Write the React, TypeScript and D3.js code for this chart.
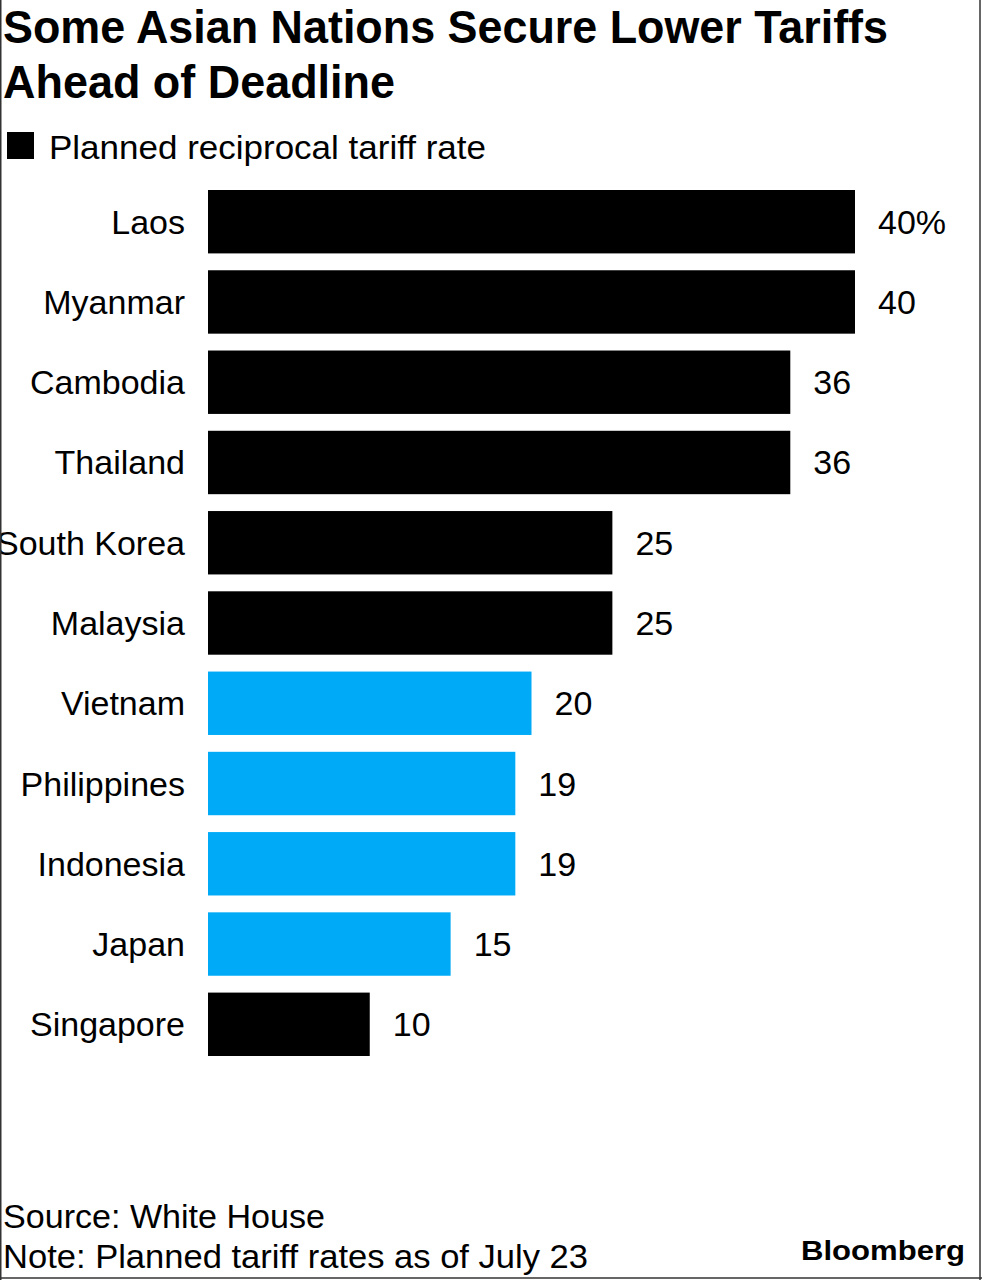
import React from "react";
import * as d3 from "d3";

const countries = ["Laos", "Myanmar", "Cambodia", "Thailand", "South Korea", "Malaysia", "Vietnam", "Philippines", "Indonesia", "Japan", "Singapore"];
const rates = [40, 40, 36, 36, 25, 25, 20, 19, 19, 15, 10];
const secured = [false, false, false, false, false, false, true, true, true, true, false];

const titleLines = ["Some Asian Nations Secure Lower Tariffs", "Ahead of Deadline"];
const legendLabel = "Planned reciprocal tariff rate";
const sourceText = "Source: White House";
const noteText = "Note: Planned tariff rates as of July 23";

const W = 982;
const H = 1280;
const FONT = "'Liberation Sans', Arial, Helvetica, sans-serif";
const BLUE = "#00aaf7";

export default function App() {
  const x = d3.scaleLinear().domain([0, 40]).range([208, 855]);
  const y = d3.scaleBand<string>().domain(countries).range([190, 1056]).paddingInner(0.21).paddingOuter(0);
  const bw = y.bandwidth();

  return (
    <div style={{ position: "absolute", left: 0, top: 0 }}>
      <svg width={W} height={H} style={{ display: "block", background: "#fff" }} fontFamily={FONT}>
        <rect x={0} y={0} width={W} height={H} fill="#fff" />
        <text x={3} y={43} fontSize={46} fontWeight="bold" fill="#000" textLength={885} lengthAdjust="spacingAndGlyphs">{titleLines[0]}</text>
        <text x={3} y={98} fontSize={46} fontWeight="bold" fill="#000" textLength={392} lengthAdjust="spacingAndGlyphs">{titleLines[1]}</text>

        <rect x={7} y={132} width={27} height={27} fill="#000" />
        <text x={49} y={159} fontSize={34} fill="#000" textLength={437} lengthAdjust="spacingAndGlyphs">{legendLabel}</text>

        {countries.map((c, i) => {
          const yc = (y(c) as number) + bw / 2;
          return (
            <g key={c}>
              <rect x={x(0)} y={y(c)} width={x(rates[i]) - x(0)} height={bw} fill={secured[i] ? BLUE : "#000"} />
              <text x={185} y={yc + 12} fontSize={34} textAnchor="end" fill="#000">{c}</text>
              <text x={x(rates[i]) + 23} y={yc + 12} fontSize={34} fill="#000">{rates[i] + (i === 0 ? "%" : "")}</text>
            </g>
          );
        })}

        <text x={3} y={1228} fontSize={34} fill="#000" textLength={322} lengthAdjust="spacingAndGlyphs">{sourceText}</text>
        <text x={3} y={1268} fontSize={34} fill="#000" textLength={585} lengthAdjust="spacingAndGlyphs">{noteText}</text>
        <text x={801} y={1260} fontSize={28} fontWeight="bold" fill="#000" textLength={164} lengthAdjust="spacingAndGlyphs">Bloomberg</text>

        <line x1={0.75} y1={0} x2={0.75} y2={H} stroke="#333" strokeWidth={1.5} />
        <line x1={980} y1={0} x2={980} y2={H} stroke="#333" strokeWidth={1.5} />
        <line x1={0} y1={1278} x2={W} y2={1278} stroke="#333" strokeWidth={1.5} />
      </svg>
    </div>
  );
}
